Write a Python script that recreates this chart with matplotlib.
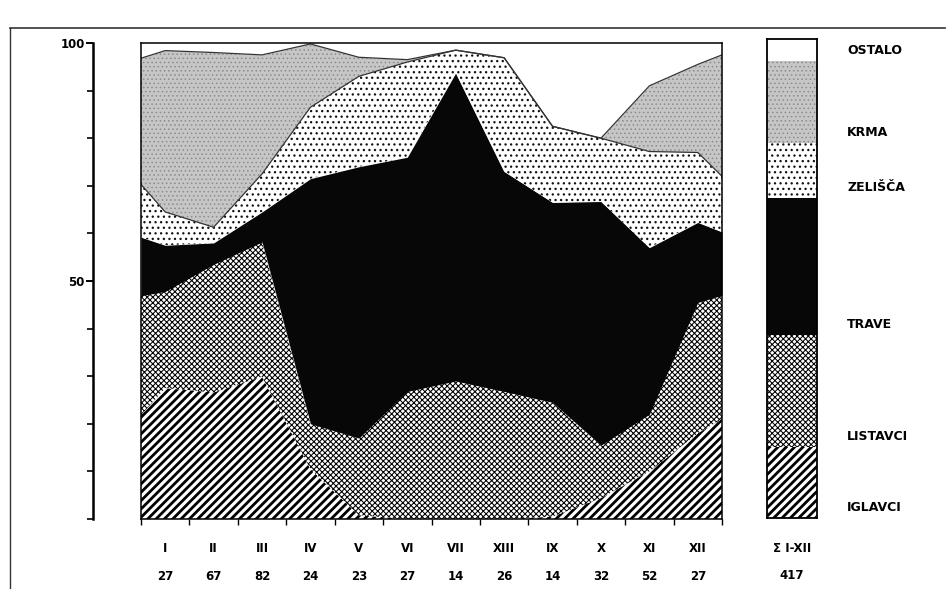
import numpy as np
import matplotlib.pyplot as plt
from matplotlib.lines import Line2D

plt.rcParams['font.family'] = ['DejaVu Sans']
plt.rcParams['font.weight'] = 'bold'

# x positions in months: plot edges (0 and 12) and month midpoints
pos = [0, 0.5, 1.5, 2.5, 3.5, 4.5, 5.5, 6.5, 7.5, 8.5, 9.5, 10.5, 11.5, 12]

# shares in % (bottom to top)
iglavci  = [21.8, 27.5, 26.6, 29.9, 10.5, 0.8, 0, 0, 0, 0.5, 4.4, 10, 18, 21]
listavci = [25.1, 20.3, 26.9, 28.3, 9.5, 16.2, 26.8, 29, 26.8, 24, 11.1, 12, 27.5, 26]
trave    = [12.3, 9.7, 4.5, 6.3, 51.5, 57, 49.2, 64.7, 46.2, 42, 51.2, 35, 16.8, 13.3]
zelisca  = [11.1, 7, 3.3, 8, 15, 19, 20, 4.8, 23.9, 16, 13.3, 20.2, 14.7, 11.7]
krma     = [26.5, 33.9, 36.7, 25, 13.3, 4, 0.5, 0, 0, 0, 0, 13.8, 18.5, 25.5]
ostalo   = [3.2, 1.6, 2, 2.5, 0.2, 3, 3.5, 1.5, 3.1, 17.5, 20, 9, 4.5, 2.5]

# whole year I-XII
godina = [14.8, 23.4, 28.6, 11.5, 17.1, 4.6]

names = ['IGLAVCI', 'LISTAVCI', 'TRAVE', 'ZELIŠČA', 'KRMA', 'OSTALO']
months = ['I', 'II', 'III', 'IV', 'V', 'VI', 'VII', 'XIII', 'IX', 'X', 'XI', 'XII']
counts = [27, 67, 82, 24, 23, 27, 14, 26, 14, 32, 52, 27]
total = '417'

styles = [
    dict(fc='white', ec='black', hatch='////', hlw=2.0),
    dict(fc='white', ec='black', hatch='xxxxxx', hlw=0.75),
    dict(fc='#070707', ec='#070707', hatch=None, hlw=1),
    dict(fc='white', ec='#111111', hatch='...', hlw=0.9),
    dict(fc='#c6c6c6', ec='#8c8c8c', hatch='....', hlw=0.6),
    dict(fc='white', ec='white', hatch=None, hlw=1),
]

fig = plt.figure(figsize=(9.52, 5.89), dpi=100)
ax = fig.add_axes([141/952, 1-519/589, 581/952, 476/589])

layers = np.array([iglavci, listavci, trave, zelisca, krma, ostalo])
tops = np.cumsum(layers, axis=0)
bottoms = np.vstack([np.zeros(len(pos)), tops[:-1]])

for i, st in enumerate(styles):
    with plt.rc_context({'hatch.linewidth': st['hlw']}):
        ax.fill_between(pos, bottoms[i], tops[i], facecolor=st['fc'],
                        edgecolor=st['ec'], hatch=st['hatch'], linewidth=0)

# thin outlines of the grey / dashed layers
ax.plot(pos, tops[3], color='#333333', lw=0.9)
ax.plot(pos, tops[4], color='#333333', lw=0.9)

ax.set_xlim(0, 12)
ax.set_ylim(0, 100)
ax.set_yticks([])
ax.set_xticks(range(13))
ax.set_xticklabels([])
ax.tick_params(axis='x', direction='out', length=4, width=1)
for s in ax.spines.values():
    s.set_linewidth(1.1)

for i in range(12):
    ax.text(i + 0.5, -0.061, months[i], transform=ax.get_xaxis_transform(),
            ha='center', va='center', fontsize=8.5)
    ax.text(i + 0.5, -0.12, str(counts[i]), transform=ax.get_xaxis_transform(),
            ha='center', va='center', fontsize=8.5)

# separate y axis on the left
sec = ax.secondary_yaxis(-48/581)
sec.set_yticks([50, 100], labels=['50', '100'])
sec.set_yticks(np.arange(0, 101, 10), minor=True)
sec.spines['left'].set_linewidth(1.8)
sec.tick_params(which='major', length=5, width=1.4, labelsize=8.5, pad=1)
sec.tick_params(which='minor', length=4, width=1.2)

# annual bar
ax2 = fig.add_axes([767/952, 1-518/589, 50/952, 479/589])
bot = 0
for i, st in enumerate(styles):
    with plt.rc_context({'hatch.linewidth': st['hlw']}):
        ax2.bar(0, godina[i], bottom=bot, width=1, facecolor=st['fc'],
                edgecolor=st['ec'], hatch=st['hatch'], linewidth=0)
    ax2.text(1.1, bot + 2.2, names[i], transform=ax2.transData,
             ha='left', va='center', fontsize=9, clip_on=False)
    bot += godina[i]
ax2.set_xlim(-0.5, 0.5)
ax2.set_ylim(0, 100)
ax2.set_xticks([])
ax2.set_yticks([])
for s in ax2.spines.values():
    s.set_linewidth(1.3)
ax2.text(0.5, -0.063, 'Σ I-XII', transform=ax2.transAxes, ha='center',
         va='center', fontsize=8.5)
ax2.text(0.5, -0.121, total, transform=ax2.transAxes, ha='center',
         va='center', fontsize=8.5)

# page frame from the scan
fig.add_artist(Line2D([10/952, 945/952], [1-28/589, 1-28/589],
                      transform=fig.transFigure, color='#333333', lw=1.2))
fig.add_artist(Line2D([10/952, 10/952], [0, 1-28/589],
                      transform=fig.transFigure, color='#333333', lw=1.0))

fig.savefig('out.png', dpi=100)
